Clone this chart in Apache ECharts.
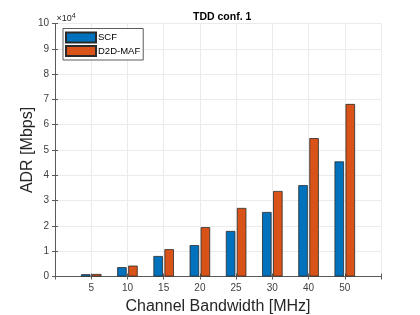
<!DOCTYPE html>
<html>
<head>
<meta charset="utf-8">
<script src="https://cdn.jsdelivr.net/npm/echarts@6/dist/echarts.min.js"></script>
<style>html,body{margin:0;padding:0;background:#fff}#c{width:420px;height:315px}</style>
</head>
<body>
<div id="c"></div>
<script>
var categories = ['5', '10', '15', '20', '25', '30', '40', '50'];
var scfValues = [900, 3700, 8100, 12400, 18000, 25500, 36100, 45500];
var d2dValues = [1000, 4300, 10800, 19500, 27100, 33800, 54700, 68200];
var yTickLabels = ['0','1','2','3','4','5','6','7','8','9','10'];

var FONT = '"Liberation Sans", Arial, Helvetica, sans-serif';
var chart = echarts.init(document.getElementById('c'), null, {renderer: 'canvas'});

function pairs(vals) { return vals.map(function (v, i) { return [i + 1, v]; }); }

var axisLineColor = '#5a5a5a';
var gridColor = '#ebebeb';

var option = {
  animation: false,
  backgroundColor: '#fff',
  textStyle: {fontFamily: FONT},
  title: {
    text: 'TDD conf. 1',
    left: 188,
    top: 7,
    textStyle: {fontFamily: FONT, fontSize: 10.5, fontWeight: 'bold', color: '#000'}
  },
  legend: {
    orient: 'vertical',
    left: 63,
    top: 28.5,
    padding: [3, 3, 3, 2],
    itemGap: 1.5,
    itemWidth: 30,
    itemHeight: 10,
    backgroundColor: '#fff',
    borderColor: '#333',
    borderWidth: 0.8,
    borderRadius: 0,
    textStyle: {fontFamily: FONT, fontSize: 9.5, color: '#000', padding: [0, 0, 0, -3]},
    icon: 'rect',
    data: ['SCF', 'D2D-MAF']
  },
  grid: {left: 55, right: 39, top: 23.5, bottom: 38.5, containLabel: false, outerBoundsMode: 'none'},
  graphic: [{
    type: 'text',
    left: 56.5,
    top: 12.5,
    style: {
      text: '{a|×10}{b|4}',
      rich: {
        a: {fontFamily: FONT, fontSize: 9, fill: '#262626', verticalAlign: 'bottom', lineHeight: 11},
        b: {fontFamily: FONT, fontSize: 7, fill: '#262626', verticalAlign: 'top', lineHeight: 11, padding: [0, 0, 4, 0]}
      }
    }
  }],
  xAxis: [{
    type: 'value',
    min: 0, max: 9, interval: 1,
    name: 'Channel Bandwidth [MHz]',
    nameLocation: 'middle',
    nameGap: 22,
    nameTextStyle: {fontFamily: FONT, fontSize: 16, color: '#262626'},
    axisLine: {show: true, lineStyle: {color: axisLineColor, width: 1}},
    axisTick: {show: true, inside: true, length: 3, lineStyle: {color: axisLineColor}},
    axisLabel: {
      fontFamily: FONT, fontSize: 10, color: '#404040', margin: 7,
      formatter: function (v) { var i = Math.round(v) - 1; return (i >= 0 && i < categories.length) ? categories[i] : ''; }
    },
    splitLine: {show: true, lineStyle: {color: gridColor, width: 1}}
  }, {
    type: 'value',
    position: 'top',
    min: 0, max: 9, interval: 1,
    axisLine: {show: true, lineStyle: {color: axisLineColor, width: 1}},
    axisTick: {show: true, inside: true, length: 3, lineStyle: {color: axisLineColor}},
    axisLabel: {show: false},
    splitLine: {show: false}
  }],
  yAxis: [{
    type: 'value',
    min: 0, max: 100000, interval: 10000,
    name: 'ADR [Mbps]',
    nameLocation: 'middle',
    nameGap: 19,
    nameMoveOverlap: false,
    nameTextStyle: {fontFamily: FONT, fontSize: 16, color: '#262626'},
    axisLine: {show: true, lineStyle: {color: axisLineColor, width: 1}},
    axisTick: {show: true, inside: true, length: 3, lineStyle: {color: axisLineColor}},
    axisLabel: {
      fontFamily: FONT, fontSize: 10, color: '#404040', margin: 6,
      formatter: function (v) { return yTickLabels[Math.round(v / 10000)]; }
    },
    splitLine: {show: true, lineStyle: {color: gridColor, width: 1}}
  }, {
    type: 'value',
    position: 'right',
    min: 0, max: 100000, interval: 10000,
    axisLine: {show: true, lineStyle: {color: axisLineColor, width: 1}},
    axisTick: {show: true, inside: true, length: 3, lineStyle: {color: axisLineColor}},
    axisLabel: {show: false},
    splitLine: {show: false}
  }],
  series: [{
    name: 'SCF',
    type: 'bar',
    xAxisIndex: 0, yAxisIndex: 0,
    barWidth: 9.5,
    barGap: '16%',
    itemStyle: {color: '#0072BD', borderColor: '#2a2a2a', borderWidth: 0.8},
    data: pairs(scfValues)
  }, {
    name: 'D2D-MAF',
    type: 'bar',
    xAxisIndex: 0, yAxisIndex: 0,
    barWidth: 9.5,
    barGap: '16%',
    itemStyle: {color: '#D95319', borderColor: '#2a2a2a', borderWidth: 0.8},
    data: pairs(d2dValues)
  }]
};
chart.setOption(option);
</script>
</body>
</html>
